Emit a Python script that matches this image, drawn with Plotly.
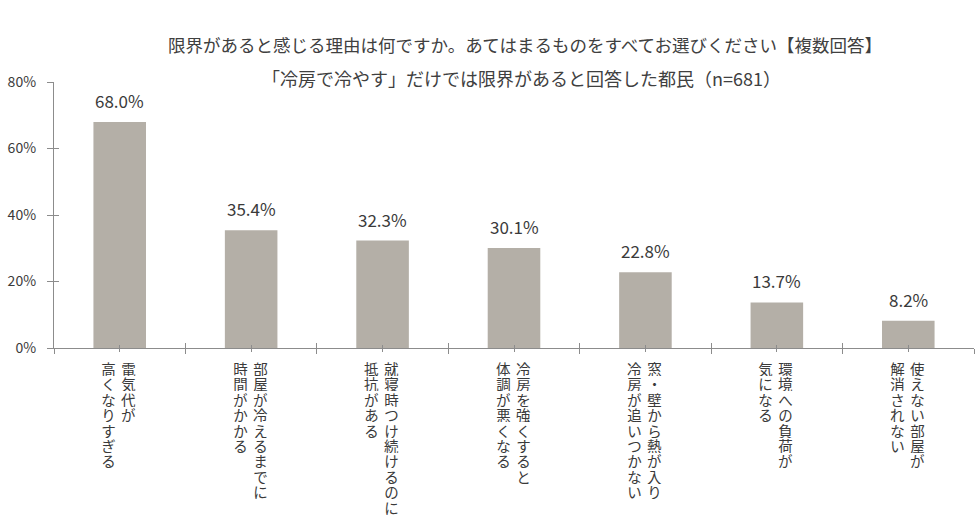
import plotly.graph_objects as go

title_line1 = "限界があると感じる理由は何ですか。あてはまるものをすべてお選びください【複数回答】"
title_line2 = "「冷房で冷やす」だけでは限界があると回答した都民（n=681）"

cat_line1 = ["電気代が", "部屋が冷えるまでに", "就寝時つけ続けるのに", "冷房を強くすると",
             "窓・壁から熱が入り", "環境への負荷が", "使えない部屋が"]
cat_line2 = ["高くなりすぎる", "時間がかかる", "抵抗がある", "体調が悪くなる",
             "冷房が追いつかない", "気になる", "解消されない"]
values = [68.0, 35.4, 32.3, 30.1, 22.8, 13.7, 8.2]
y_ticks = [0, 20, 40, 60, 80]
y_tick_labels = ["0%", "20%", "40%", "60%", "80%"]

FONT = "Noto Sans CJK JP"
BAR = "#b4afa7"
AXIS = "#8c8c8c"
TXT = "#3a3a3a"

xs = list(range(len(values)))

fig = go.Figure()
fig.add_trace(go.Bar(x=xs, y=values, width=0.4, marker=dict(color=BAR, line=dict(width=0)),
                     hoverinfo="skip"))

annotations = []
# data labels
for x, v in zip(xs, values):
    annotations.append(dict(x=x, y=v, xref="x", yref="y", text=f"{v:.1f}%", showarrow=False,
                            yanchor="bottom", yshift=7, font=dict(family=FONT, size=17, color=TXT)))
# vertical category labels (one glyph per annotation, columns right-to-left)
CH = 15.4
for x, l1, l2 in zip(xs, cat_line1, cat_line2):
    for txt, dx in [(l1, 9), (l2, -11)]:
        for k, ch in enumerate(txt):
            annotations.append(dict(x=x, y=0, xref="x", yref="paper", text=ch, showarrow=False,
                                    xanchor="center", yanchor="top", xshift=dx,
                                    yshift=-(12 + CH * k), height=15, width=17, borderpad=0,
                                    font=dict(family=FONT, size=14.5, color=TXT)))
# titles
annotations.append(dict(x=0.512, y=45, xref="paper", yref="paper", text=title_line1, showarrow=False,
                        font=dict(family=FONT, size=17.5, color="#404040")))
annotations.append(dict(x=0.508, y=78, xref="paper", yref="paper", text=title_line2, showarrow=False,
                        font=dict(family=FONT, size=18, color="#404040")))

H = 530
top, bottom = 82, 182
ph = H - top - bottom
for a in annotations[-2:]:
    # convert pixel y to paper coordinates
    a["y"] = (H - bottom - a["y"]) / ph
    a["yanchor"] = "middle"

fig.update_layout(
    width=980, height=530,
    margin=dict(l=54, r=6, t=top, b=bottom),
    plot_bgcolor="white", paper_bgcolor="white",
    showlegend=False,
    annotations=annotations,
    xaxis=dict(range=[-0.5, 6.5], tickmode="linear", tick0=-0.5, dtick=1, showticklabels=False,
               ticks="outside", ticklen=5, tickcolor=AXIS, showline=True, linecolor=AXIS, linewidth=1.3,
               showgrid=False, zeroline=False,
               minor=dict(tickmode="linear", tick0=0, dtick=1, ticks="outside", ticklen=3, tickcolor=AXIS)),
    xaxis2=dict(range=[-0.5, 6.5], overlaying="x", tickmode="linear", tick0=-0.5, dtick=1,
                showticklabels=False, ticks="inside", ticklen=5, tickcolor=AXIS, showgrid=False,
                zeroline=False, showline=False, side="bottom",
                minor=dict(tickmode="linear", tick0=0, dtick=1, ticks="inside", ticklen=3, tickcolor=AXIS)),
    yaxis=dict(range=[0, 80], tickvals=y_ticks, ticktext=y_tick_labels, ticks="outside", ticklen=6,
               tickcolor=AXIS, showline=True, linecolor=AXIS, linewidth=1.3, showgrid=False, zeroline=False,
               tickfont=dict(family=FONT, size=14, color=TXT), ticklabelstandoff=8),
    yaxis2=dict(range=[0, 80], overlaying="y", tickvals=y_ticks, showticklabels=False, ticks="inside",
                ticklen=5, tickcolor=AXIS, showgrid=False, zeroline=False, showline=False),
)
# invisible trace to activate the overlay axes
fig.add_trace(go.Scatter(x=[0], y=[0], xaxis="x2", yaxis="y2", mode="markers",
                         marker=dict(opacity=0), hoverinfo="skip"))

fig.write_html("out.html")
